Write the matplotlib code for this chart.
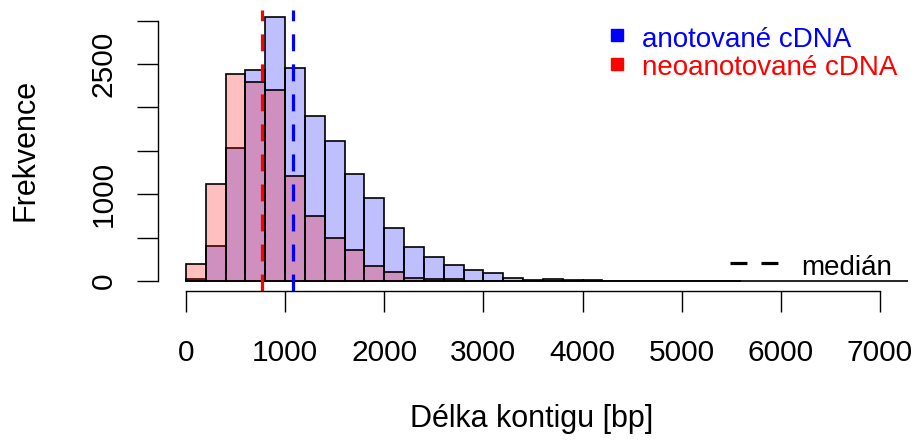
import numpy as np
import matplotlib.pyplot as plt
from matplotlib.lines import Line2D

plt.rcParams['font.family'] = ['Liberation Sans', 'DejaVu Sans']

# pocty kontigu v binech po 200 bp (od 0)
sirka_binu = 200
anotovane = [20, 400, 1530, 2434, 3042, 2452, 1899, 1619, 1235, 954,
             608, 395, 277, 184, 123, 96, 40, 10, 20, 8,
             6, 4, 3, 2, 2, 1, 1, 1]
neoanotovane = [198, 1120, 2388, 2291, 2203, 1208, 747, 493, 360, 171,
                98, 40, 20, 20, 3, 2, 2, 1, 0, 0,
                0, 0, 0, 0, 0, 0, 0, 0, 0, 0,
                0, 0, 0, 0, 0, 0, 0]
median_anot = 1084
median_neo = 764

x_ticks = [0, 1000, 2000, 3000, 4000, 5000, 6000, 7000]
y_ticks = [0, 500, 1000, 1500, 2000, 2500, 3000]
y_labels = ['0', '', '1000', '', '', '2500', '']

W, H = 918, 446
fig = plt.figure(figsize=(W / 100, H / 100), dpi=100)


def px(x, y):
    # pixely (od leveho horniho rohu) -> souradnice obrazku
    return x / W, 1 - y / H


ax = fig.add_axes([158.2 / W, (H - 291.4) / H, (907.7 - 158.2) / W, (291.4 - 10.3) / H])

modra = (0, 0, 1, 0.25)
cervena = (1, 0, 0, 0.25)

hrany = np.arange(len(anotovane)) * sirka_binu
ax.bar(hrany, anotovane, width=sirka_binu, align='edge', color=modra,
       edgecolor='black', linewidth=1.2)
hrany = np.arange(len(neoanotovane)) * sirka_binu
ax.bar(hrany, neoanotovane, width=sirka_binu, align='edge', color=cervena,
       edgecolor='black', linewidth=1.2)

ax.axvline(median_anot, color='blue', lw=2.3, ls=(0, (5.3, 4.1)))
ax.axvline(median_neo, color='red', lw=2.3, ls=(0, (5.3, 4.1)))

ax.set_xlim(-280, 7280)
ax.set_ylim(-120, 3120)

for s in ['top', 'right']:
    ax.spines[s].set_visible(False)
ax.spines['left'].set_bounds(0, 3000)
ax.spines['bottom'].set_bounds(0, 7000)
ax.spines['left'].set_linewidth(1.0)
ax.spines['bottom'].set_linewidth(1.0)

ax.set_xticks(x_ticks)
ax.set_yticks(y_ticks)
ax.set_yticklabels(y_labels, rotation=90, va='center')
ax.tick_params(axis='both', direction='out', length=15, width=1.0, labelsize=21.5)
ax.tick_params(axis='x', pad=19)
ax.tick_params(axis='y', pad=14)

fig.text(*px(25, 150), 'Frekvence', rotation=90, ha='center', va='center', fontsize=22)
fig.text(*px(532, 426.7), 'Délka kontigu [bp]', ha='center', va='baseline', fontsize=22)

# legenda
for y, barva, text, zakl in [(35, 'blue', 'anotované cDNA', 46.7),
                             (64, 'red', 'neoanotované cDNA', 75)]:
    fig.add_artist(Line2D([px(617, y)[0]], [px(617, y)[1]], marker='s', ms=9,
                          color=barva, ls='none', transform=fig.transFigure))
    fig.text(*px(641.7, zakl), text, color=barva, fontsize=20, va='baseline')

x0, y0 = px(730, 262.7)
x1, _ = px(778, 262.7)
fig.add_artist(Line2D([x0, x1], [y0, y0], color='black', lw=2.3,
                      ls=(0, (5.3, 4.4)), transform=fig.transFigure))
fig.text(*px(801.7, 275), 'medián', color='black', fontsize=20, va='baseline')

fig.savefig('out.png', dpi=100)
